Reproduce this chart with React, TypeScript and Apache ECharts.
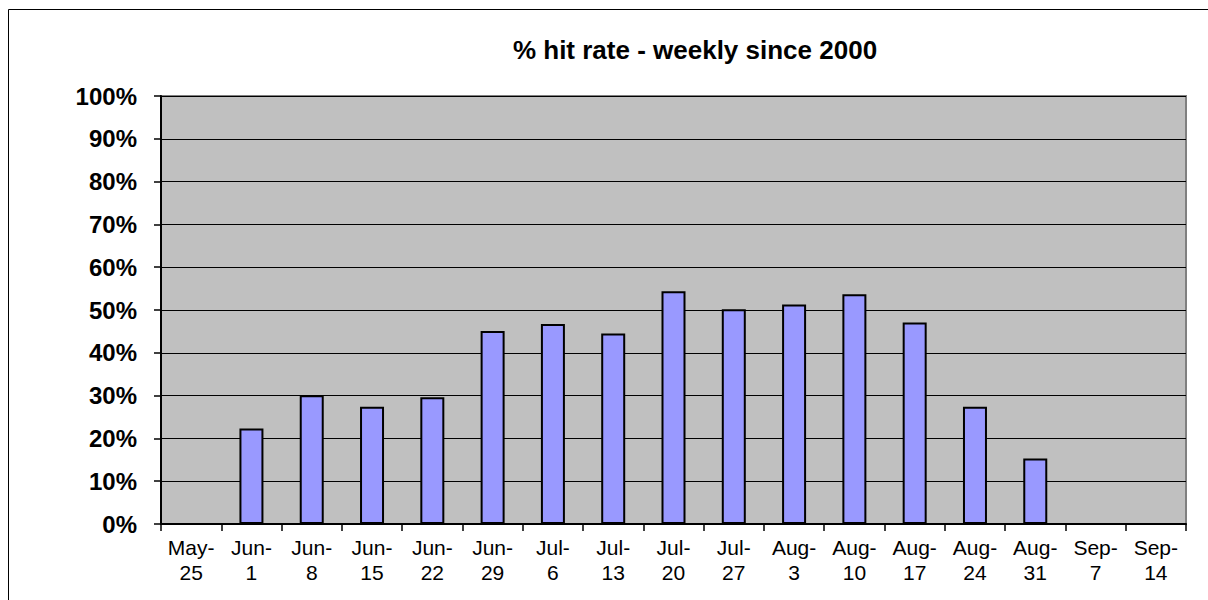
import React, { useEffect, useRef } from "react";
import * as echarts from "echarts";

const categories = [
  "May-\n25", "Jun-\n1", "Jun-\n8", "Jun-\n15", "Jun-\n22", "Jun-\n29",
  "Jul-\n6", "Jul-\n13", "Jul-\n20", "Jul-\n27", "Aug-\n3", "Aug-\n10",
  "Aug-\n17", "Aug-\n24", "Aug-\n31", "Sep-\n7", "Sep-\n14",
];
const hitRate: (number | null)[] = [
  null, 22.3, 30.1, 27.4, 29.6, 45.1, 46.7, 44.5, 54.4, 50.2, 51.3, 53.7,
  47.1, 27.4, 15.3, null, null,
];
const yTicks = [0, 10, 20, 30, 40, 50, 60, 70, 80, 90, 100];
const titleText = "% hit rate - weekly since 2000";

export default function App() {
  const ref = useRef<HTMLDivElement>(null);
  useEffect(() => {
    document.body.style.margin = "0";
    document.body.style.overflow = "hidden";
    const chart = echarts.init(ref.current!, null, { renderer: "svg" });
    chart.setOption({
      animation: false,
      backgroundColor: "#ffffff",
      title: {
        text: titleText,
        left: 690,
        top: 32,
        textAlign: "center",
        textStyle: {
          fontFamily: "Liberation Sans, Arial, sans-serif",
          fontWeight: "bold",
          fontSize: 26,
          color: "#000",
        },
      },
      graphic: [
        {
          type: "rect",
          shape: { x: 8.5, y: 9.5, width: 1220, height: 620 },
          style: { fill: "none", stroke: "#000", lineWidth: 1 },
          silent: true,
          z: 100,
        },
      ],
      grid: {
        left: 161,
        right: 22,
        top: 96,
        bottom: 76,
        show: true,
        backgroundColor: "#c0c0c0",
        borderColor: "#808080",
        borderWidth: 2,
      },
      xAxis: {
        type: "category",
        data: categories,
        boundaryGap: true,
        axisLine: { show: true, lineStyle: { color: "#000", width: 2 } },
        axisTick: { show: true, length: 7, lineStyle: { color: "#000", width: 1.5 } },
        axisLabel: {
          color: "#000",
          fontFamily: "Liberation Sans, Arial, sans-serif",
          fontSize: 21,
          lineHeight: 25,
          margin: 11,
          interval: 0,
        },
        splitLine: { show: false },
      },
      yAxis: {
        type: "value",
        min: 0,
        max: 100,
        interval: 10,
        axisLine: { show: true, lineStyle: { color: "#000", width: 2 } },
        axisTick: { show: true, length: 7, lineStyle: { color: "#000", width: 1.5 } },
        axisLabel: {
          formatter: (v: number) => (yTicks.includes(v) ? v + "%" : ""),
          color: "#000",
          fontFamily: "Liberation Sans, Arial, sans-serif",
          fontWeight: "bold",
          fontSize: 24,
          margin: 24,
        },
        splitLine: { show: true, lineStyle: { color: "#000", width: 1.2 } },
      },
      series: [
        {
          type: "bar",
          data: hitRate,
          barWidth: 24,
          itemStyle: { color: "#9999ff", borderColor: "#000", borderWidth: 2 },
        },
      ],
    });
    return () => chart.dispose();
  }, []);
  return <div ref={ref} style={{ width: 1208, height: 600 }} />;
}
